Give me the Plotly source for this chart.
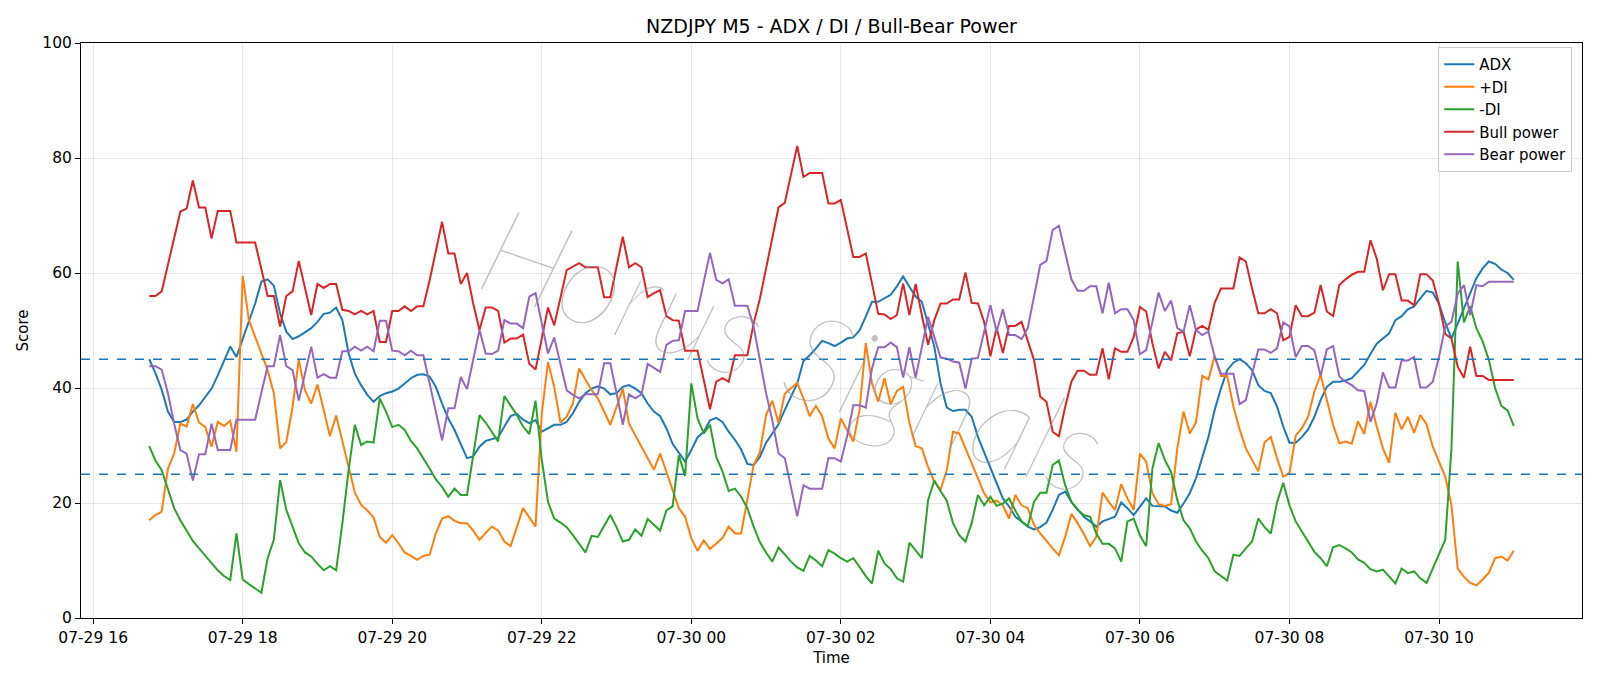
import pandas as pd
import plotly.graph_objects as go

start_time = "2024-07-29 16:45"
n_points = 220

adx = [45.0, 42.6, 39.7, 35.9, 34.1, 34.1, 34.5, 35.9, 37.0, 38.5, 39.9, 42.2, 44.8, 47.2, 45.4, 48.6, 51.5, 54.7, 58.5, 58.9,
       57.8, 53.0, 49.8, 48.5, 49.0, 49.7, 50.4, 51.5, 52.9, 53.1, 54.0, 51.8, 46.0,
       42.5, 40.5, 38.8, 37.6, 38.6, 39.1, 39.4, 39.9, 40.8, 41.7, 42.3, 42.4, 42.0, 40.2, 37.3, 34.7, 32.7, 30.1,
       27.8, 28.1, 29.8, 30.8, 31.1, 31.4, 33.3, 35.1, 35.5, 34.5, 33.9, 34.4, 32.4, 33.0, 33.6, 33.6,
       34.1, 35.6, 37.6, 39.1, 39.9, 40.3, 39.9, 38.9, 39.1, 40.2, 40.5, 39.9, 39.1, 37.3, 35.9, 35.1, 33.0, 30.3,
       28.7, 27.2, 29.2, 31.4, 32.4, 34.4, 34.8, 34.1, 32.4, 31.0, 29.3, 26.8, 26.6,
       28.0, 30.5, 32.0, 33.7, 36.2, 38.5, 40.8, 44.7, 45.7, 46.9, 48.2, 47.8, 47.3, 47.9, 48.6, 48.8, 50.0, 52.4,
       55.0, 55.0, 55.6, 56.2, 57.7, 59.4, 57.6, 55.9, 55.0, 51.2, 47.2, 40.8, 36.6, 36.0, 36.2, 36.2, 35.0, 31.5,
       28.9, 26.0, 23.4, 20.8, 19.4, 17.6, 16.8, 15.9, 15.4, 15.8, 16.6, 18.8, 21.4, 22.0, 20.2, 18.8, 17.6, 16.8,
       15.9, 16.8, 17.2, 17.6, 20.1, 19.1, 17.9, 19.4, 20.8, 19.5, 19.5, 19.4, 18.7, 18.3, 19.9, 21.7,
       24.3, 27.8, 31.5, 36.2, 39.9, 43.1, 44.4, 45.0, 44.3, 43.1, 40.5, 39.5, 39.1, 36.8, 33.3, 30.5, 30.5, 31.5,
       32.8, 35.0, 37.9, 40.2, 41.1, 41.1, 41.3, 41.7, 42.8, 44.0, 45.9, 47.7, 48.6, 49.5, 51.8,
       52.5, 53.7, 54.2, 55.6, 56.9, 56.6, 54.6, 51.4, 48.6, 51.2, 53.8, 56.3, 59.1, 60.8, 62.0, 61.6, 60.6, 60.0, 58.8]

plus_di = [17.0, 17.9, 18.5, 26.0, 28.6, 33.8, 33.3, 37.2, 34.0, 33.2, 29.8, 34.1, 33.4, 34.3, 28.9, 59.5, 51.8, 48.9, 46.0,
           43.1, 39.1, 29.5, 30.6, 36.7, 44.9, 39.6, 37.3, 40.6, 36.2, 31.6, 35.2, 30.7, 26.3,
           21.8, 19.7, 18.7, 17.5, 14.1, 13.1, 14.4, 13.0, 11.4, 10.8, 10.1, 10.8, 11.0, 14.7, 17.3, 17.7, 16.9, 16.5,
           16.5, 15.2, 13.6, 14.8, 15.9, 15.2, 13.3, 12.5, 15.9, 19.1, 17.5, 15.9, 35.6, 44.5, 40.2, 34.0,
           35.0, 37.3, 43.4, 41.4, 39.6, 38.2, 35.9, 33.6, 36.7, 39.9, 33.8, 31.8, 29.8, 27.8, 25.8, 28.6, 25.5, 22.3,
           19.1, 17.6, 13.9, 11.7, 13.5, 12.0, 12.9, 13.9, 15.9, 14.7, 14.7, 20.8, 26.6,
           28.8, 35.3, 37.8, 33.9, 39.0, 39.9, 40.9, 38.2, 35.1, 36.9, 35.1, 31.2, 29.5, 34.7, 32.7, 30.7, 36.2, 47.8,
           40.8, 37.6, 41.7, 37.2, 39.5, 40.2, 33.9, 29.9, 29.5, 26.3, 23.7, 22.3, 25.7, 32.4, 32.1, 29.5, 26.9, 24.5,
           21.7, 20.1, 20.4, 19.6, 17.3, 21.4, 19.6, 19.1, 16.2, 14.7, 13.3, 12.1, 10.9, 14.1, 18.1, 16.5, 14.6, 12.5,
           14.1, 21.8, 20.2, 18.8, 23.3, 20.8, 18.8, 28.6, 27.2, 21.7, 19.8, 19.5, 19.8, 29.5, 35.9, 32.1,
           34.0, 42.1, 41.5, 45.6, 42.1, 42.1, 36.8, 32.8, 29.5, 27.5, 25.5, 30.5, 31.5, 27.8, 24.6, 25.2, 31.7, 33.0,
           35.0, 39.4, 42.3, 37.9, 33.6, 30.4, 30.7, 30.3, 34.2, 32.0, 37.6, 33.3, 29.5, 27.0, 35.7,
           32.8, 35.0, 32.2, 35.3, 33.7, 29.8, 27.2, 24.6, 19.6, 8.6, 7.2, 6.1, 5.7, 6.7, 7.9, 10.4, 10.7, 10.0, 11.7]

minus_di = [29.9, 27.4, 25.7, 22.3, 19.1, 17.0, 15.2, 13.4, 12.1, 10.8, 9.6, 8.3, 7.3, 6.6, 14.7, 6.7, 5.9, 5.2, 4.4,
            10.4, 13.6, 24.0, 18.8, 15.9, 13.0, 11.4, 10.7, 9.4, 8.3, 9.0, 8.3, 16.5, 25.7,
            33.6, 30.1, 30.7, 30.5, 38.2, 35.9, 33.2, 33.6, 32.7, 30.8, 29.5, 27.8, 26.0, 24.1, 22.8, 21.1, 22.5, 21.4,
            21.4, 28.3, 35.3, 34.0, 32.4, 30.7, 38.6, 37.0, 35.3, 33.3, 32.0, 37.8, 27.5, 20.2, 17.3, 16.6,
            15.8, 14.4, 13.0, 11.4, 14.3, 14.1, 16.0, 17.9, 15.8, 13.3, 13.6, 15.4, 14.3, 17.2, 16.2, 15.2, 18.7, 19.4,
            28.3, 24.7, 40.8, 34.7, 32.1, 33.6, 28.0, 25.5, 22.1, 22.5, 21.1, 19.1, 15.9,
            13.2, 11.4, 9.8, 12.3, 11.0, 9.8, 8.8, 8.2, 10.8, 10.0, 9.0, 11.8, 11.2, 10.4, 9.8, 10.4, 8.9, 7.3,
            6.0, 11.7, 9.5, 8.5, 6.9, 6.3, 13.1, 11.8, 10.4, 20.5, 23.9, 22.1, 20.4, 16.5, 14.4, 13.3, 16.5, 21.4,
            19.6, 21.1, 19.5, 19.9, 20.8, 18.7, 16.8, 15.9, 20.2, 21.8, 21.8, 26.6, 27.4, 23.1, 20.2, 18.8, 17.9, 17.6,
            14.7, 12.9, 12.9, 12.1, 9.8, 16.8, 17.3, 14.4, 12.5, 26.0, 30.4, 27.5, 25.4, 20.5, 17.0, 15.6,
            13.3, 11.7, 10.4, 8.1, 7.3, 6.5, 11.0, 10.8, 12.1, 13.3, 17.3, 15.8, 14.7, 20.1, 23.5, 19.6, 16.8, 15.0,
            13.3, 11.5, 10.4, 9.0, 12.3, 12.7, 12.1, 11.4, 10.2, 9.6, 8.5, 8.1, 8.4, 7.1, 6.0,
            8.6, 7.8, 8.1, 6.9, 6.1, 8.6, 11.2, 13.6, 29.5, 62.0, 51.4, 54.2, 50.4, 48.1, 44.9, 40.0, 36.9, 36.1, 33.4]

bull_power = [56.0, 56.0, 56.8, 61.4, 66.0, 70.7, 71.2, 76.1, 71.4, 71.4, 66.0, 70.8, 70.8, 70.8, 65.3, 65.3, 65.3, 65.3,
              60.7, 56.0, 56.0, 50.7, 56.0, 56.8, 62.1, 57.3, 52.7, 58.1, 57.4, 58.1, 58.1, 53.6, 53.4,
              52.8, 53.4, 52.8, 53.4, 48.0, 48.0, 53.4, 53.4, 54.2, 53.4, 54.2, 54.2, 58.7, 63.8, 68.9, 63.4, 63.4, 58.1,
              60.0, 54.7, 50.1, 54.0, 54.0, 53.4, 47.9, 48.6, 48.6, 49.3, 44.2, 43.2, 48.3, 54.0, 50.9, 56.0,
              60.5, 61.1, 61.7, 61.0, 61.0, 61.0, 55.8, 55.8, 61.1, 66.3, 61.0, 61.7, 61.0, 55.8, 56.5, 57.0, 52.5, 51.8,
              51.7, 46.5, 46.5, 46.5, 41.4, 36.3, 41.1, 41.7, 41.1, 45.7, 45.7, 45.7, 51.2,
              55.5, 60.8, 66.0, 71.4, 72.2, 77.0, 82.1, 76.7, 77.4, 77.4, 77.4, 72.1, 72.1, 72.7, 67.8, 62.8, 62.8, 63.4,
              58.2, 52.9, 52.8, 52.0, 52.7, 58.2, 52.7, 58.1, 52.7, 47.5, 51.8, 54.7, 54.7, 55.4, 55.4, 60.1, 54.8, 54.7,
              51.5, 45.5, 50.5, 46.1, 50.8, 50.8, 51.5, 48.3, 44.9, 38.5, 37.6, 32.4, 31.6, 36.7, 41.1, 43.0, 43.0, 42.3,
              42.3, 46.9, 41.5, 46.9, 46.3, 46.3, 48.9, 54.1, 53.3, 47.8, 43.4, 46.3, 44.8, 49.5, 49.8, 45.5,
              50.2, 50.8, 50.1, 54.8, 57.3, 57.3, 57.3, 62.7, 62.0, 57.3, 53.0, 53.0, 53.7, 53.0, 48.3, 48.9, 54.4, 52.5,
              52.5, 53.1, 57.9, 53.3, 52.5, 57.9, 58.9, 59.7, 60.2, 60.2, 65.7, 62.5, 57.0, 59.8, 59.8,
              55.2, 55.2, 54.4, 59.8, 59.8, 58.7, 54.7, 49.4, 48.6, 43.7, 41.8, 47.2, 42.1, 42.1, 41.4, 41.4, 41.4, 41.4, 41.4]

bear_power = [43.8, 43.8, 43.2, 39.1, 33.8, 29.2, 28.6, 23.9, 28.5, 28.5, 33.8, 29.2, 29.2, 29.2, 34.5, 34.5, 34.5, 34.5,
              39.2, 43.8, 43.8, 49.2, 43.8, 43.1, 37.8, 42.6, 47.2, 41.8, 42.4, 41.8, 41.8, 46.4, 46.4,
              47.2, 46.5, 47.2, 46.4, 51.7, 51.7, 46.5, 46.4, 45.7, 46.5, 45.7, 45.7, 40.8, 35.9, 30.9, 36.5, 36.5, 41.9,
              39.8, 44.9, 50.1, 46.0, 45.9, 46.5, 51.8, 51.2, 51.2, 50.4, 55.9, 56.5, 51.2, 46.0, 48.8, 44.3,
              39.6, 38.8, 38.2, 38.9, 38.9, 38.9, 44.3, 44.3, 39.1, 33.6, 38.9, 38.2, 38.9, 44.2, 43.5, 42.8, 47.5, 48.2,
              48.3, 53.4, 53.4, 53.4, 58.5, 63.5, 58.8, 58.2, 58.9, 54.3, 54.3, 54.3, 50.7,
              45.2, 39.1, 34.4, 28.6, 27.8, 22.8, 17.7, 23.1, 22.5, 22.5, 22.5, 27.8, 27.8, 27.2, 31.6, 37.0, 37.0, 36.6,
              43.4, 47.1, 47.1, 47.9, 47.1, 41.8, 47.1, 41.8, 47.2, 52.4, 48.9, 45.3, 45.1, 44.6, 44.4, 39.9, 45.1, 45.2,
              49.8, 54.4, 49.8, 53.7, 49.2, 49.2, 48.5, 50.4, 55.9, 61.4, 62.1, 67.5, 68.2, 63.4, 58.9, 56.9, 56.9, 57.7,
              57.7, 53.0, 58.3, 53.0, 53.7, 53.7, 51.8, 45.9, 46.6, 51.5, 56.6, 53.4, 55.2, 50.4, 49.8, 54.4,
              50.1, 49.2, 49.8, 45.4, 42.5, 42.5, 42.5, 37.2, 37.9, 42.5, 46.7, 46.7, 46.1, 46.9, 51.4, 50.7, 45.4, 47.3,
              47.3, 46.6, 42.1, 46.7, 47.3, 42.0, 41.1, 40.5, 39.6, 39.5, 34.1, 37.3, 42.7, 40.1, 40.1,
              44.8, 44.8, 45.4, 40.1, 40.1, 41.1, 45.4, 50.7, 51.5, 56.4, 57.9, 52.7, 57.9, 57.7, 58.5, 58.5, 58.5, 58.5, 58.5]

series_names = ["ADX", "+DI", "-DI", "Bull power", "Bear power"]
series_colors = ["#1f77b4", "#ff7f0e", "#2ca02c", "#d62728", "#9467bd"]
threshold_levels = [45, 25]
y_ticks = [0, 20, 40, 60, 80, 100]
watermark = "Horus Signals"

times = pd.date_range(start_time, periods=n_points, freq="5min")
span = times[-1] - times[0]
x_range = [times[0] - span * 0.05, times[-1] + span * 0.05]
x_ticks = pd.date_range("2024-07-29 16:00", "2024-07-30 10:00", freq="2h")

fig = go.Figure()
for name, color, vals in zip(series_names, series_colors,
                             [adx, plus_di, minus_di, bull_power, bear_power]):
    fig.add_trace(go.Scatter(x=times, y=vals, mode="lines", name=name,
                             line=dict(color=color, width=2)))

for lvl in threshold_levels:
    fig.add_shape(type="line", xref="paper", x0=0, x1=1, yref="y", y0=lvl, y1=lvl,
                  line=dict(color="#1f77b4", width=1.3, dash="dash"), layer="above")

fig.add_annotation(text=watermark, xref="paper", yref="paper", x=0.475, y=0.47,
                   showarrow=False, textangle=19,
                   font=dict(family="Lato, Roboto, Inter, DejaVu Sans", size=121,
                             color="rgba(150,150,150,0.6)", style="italic", weight=200))

fig.update_layout(
    width=1600, height=686,
    paper_bgcolor="white", plot_bgcolor="white",
    margin=dict(l=81, r=18, t=43, b=68),
    font=dict(family="DejaVu Sans", size=15, color="black"),
    title=dict(text="NZDJPY M5 - ADX / DI / Bull-Bear Power", xref="paper", x=0.5, xanchor="center",
               y=1 - 26 / 686, yanchor="middle", font=dict(size=19, color="black")),
    legend=dict(x=0.9935, xanchor="right", y=0.993, yanchor="top",
                bgcolor="rgba(255,255,255,0.8)", bordercolor="#cccccc", borderwidth=1,
                font=dict(size=15), tracegroupgap=0),
    showlegend=True,
)
fig.update_xaxes(range=x_range, tickvals=x_ticks, tickformat="%m-%d %H",
                 showgrid=True, gridcolor="rgba(176,176,176,0.3)", gridwidth=1,
                 showline=True, linecolor="black", linewidth=1, mirror=True,
                 ticks="outside", ticklen=5, tickcolor="black",
                 title=dict(text="Time", font=dict(size=15), standoff=6),
                 tickfont=dict(size=15.5), zeroline=False)
fig.update_yaxes(range=[0, 100], tickvals=y_ticks,
                 showgrid=True, gridcolor="rgba(176,176,176,0.3)", gridwidth=1,
                 showline=True, linecolor="black", linewidth=1, mirror=True,
                 ticks="outside", ticklen=5, tickcolor="black",
                 title=dict(text="Score", font=dict(size=15), standoff=10),
                 tickfont=dict(size=15.5), zeroline=False)

fig.write_html("out.html")
